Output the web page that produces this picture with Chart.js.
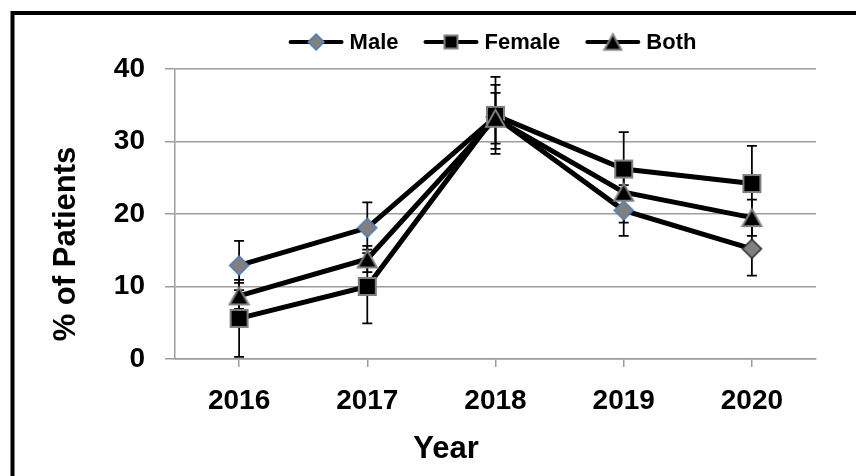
<!DOCTYPE html>
<html>
<head>
<meta charset="utf-8">
<title>% of Patients by Year</title>
<script src="https://cdn.jsdelivr.net/npm/chart.js@4.4.1/dist/chart.umd.min.js"></script>
<style>
  html, body { margin: 0; padding: 0; background: #fff; }
  .chart-wrap { position: relative; width: 856px; height: 476px; }
</style>
</head>
<body>
<div class="chart-wrap"><canvas id="patientsChart"></canvas></div>
<script>
// Values
const years = ['2016', '2017', '2018', '2019', '2020'];
const yTicks = [0, 10, 20, 30, 40];

const maleValues = [12.9, 18.1, 33.4, 20.5, 15.2];
const maleErrors = [3.4, 3.5, 4.4, 3.5, 3.7];
const femaleValues = [5.6, 10.0, 33.6, 26.2, 24.2];
const femaleErrors = [5.3, 5.1, 5.3, 5.1, 5.2];
const bothValues = [8.7, 13.8, 33.2, 23.0, 19.5];
const bothErrors = [1.8, 1.8, 3.5, 4.2, 2.5];

const FONT = '"Liberation Sans", Arial, sans-serif';
const GRID = '#9c9c9c';
Chart.defaults.font.family = FONT;

// Excel-style markers drawn on small canvases, used as point styles
function makeMarker(shape, size, fill, stroke, lw) {
    const c = document.createElement('canvas');
    const s = Math.ceil(size + lw + 2);
    c.width = c.height = s;
    const g = c.getContext('2d');
    const m = s / 2, h = size / 2;
    g.beginPath();
    if (shape === 'diamond') {
        g.moveTo(m, m - h); g.lineTo(m + h, m); g.lineTo(m, m + h); g.lineTo(m - h, m);
    } else if (shape === 'square') {
        g.rect(m - h, m - h, size, size);
    } else {
        g.moveTo(m, m - h * 0.9); g.lineTo(m + h, m + h * 0.9); g.lineTo(m - h, m + h * 0.9);
    }
    g.closePath();
    g.fillStyle = fill;
    g.fill();
    g.lineWidth = lw;
    g.strokeStyle = stroke;
    g.stroke();
    return c;
}

const diamondBlue = makeMarker('diamond', 19, '#808080', '#4a7ebb', 1.5);
const diamondDark = makeMarker('diamond', 19, '#808080', '#262626', 1.5);
const squareMk = makeMarker('square', 17, '#000', '#7f7f7f', 2);
const triangleMk = makeMarker('triangle', 19, '#000', '#7f7f7f', 2);

// error bars (drawn under the series)
const errorBars = {
    id: 'errorBars',
    beforeDatasetsDraw(chart) {
        const { ctx, scales: { y } } = chart;
        ctx.save();
        ctx.strokeStyle = '#000';
        ctx.lineWidth = 1.75;
        chart.data.datasets.forEach((ds, di) => {
            chart.getDatasetMeta(di).data.forEach((pt, i) => {
                const v = ds.data[i], e = ds.errors[i];
                const top = y.getPixelForValue(v + e);
                const bot = y.getPixelForValue(v - e);
                const x = pt.x;
                ctx.beginPath();
                ctx.moveTo(x, top); ctx.lineTo(x, bot);
                ctx.moveTo(x - 5, top); ctx.lineTo(x + 5, top);
                ctx.moveTo(x - 5, bot); ctx.lineTo(x + 5, bot);
                ctx.stroke();
            });
        });
        ctx.restore();
    }
};

// legend with line + marker icons, centred over the plot area
const lineLegend = {
    id: 'lineLegend',
    afterDraw(chart) {
        const { ctx, chartArea } = chart;
        ctx.save();
        ctx.font = `bold 22px ${FONT}`;
        const iconW = 55, gap = 6, sep = 25, y = 42;
        const items = chart.data.datasets.map(ds => ({ text: ds.label, mk: ds.legendMarker }));
        const total = items.reduce((s, it) => s + iconW + gap + ctx.measureText(it.text).width, 0) + sep * (items.length - 1);
        let x = (chartArea.left + chartArea.right) / 2 - total / 2 - 3;
        items.forEach(it => {
            ctx.strokeStyle = '#000';
            ctx.lineWidth = 4;
            ctx.lineCap = 'round';
            ctx.beginPath();
            ctx.moveTo(x + 2, y); ctx.lineTo(x + iconW - 2, y);
            ctx.stroke();
            ctx.drawImage(it.mk, x + iconW / 2 - it.mk.width / 2, y - it.mk.height / 2);
            x += iconW + gap;
            ctx.fillStyle = '#000';
            ctx.textAlign = 'left';
            ctx.textBaseline = 'middle';
            ctx.fillText(it.text, x, y + 1);
            x += ctx.measureText(it.text).width + sep;
        });
        ctx.restore();
    }
};

// white background, frame and axis titles
const frame = {
    id: 'frame',
    beforeDraw(chart) {
        const { ctx } = chart;
        ctx.save();
        ctx.fillStyle = '#fff';
        ctx.fillRect(0, 0, chart.width, chart.height);
        ctx.restore();
    },
    afterDraw(chart) {
        const { ctx } = chart;
        ctx.save();
        ctx.strokeStyle = '#000';
        ctx.lineWidth = 4;
        ctx.strokeRect(12.5, 13, chart.width + 20, chart.height + 20);
        ctx.fillStyle = '#000';
        ctx.font = `bold 31px ${FONT}`;
        ctx.textAlign = 'center';
        ctx.textBaseline = 'middle';
        ctx.fillText('Year', 446, 449);
        ctx.translate(66, 244);
        ctx.rotate(-Math.PI / 2);
        ctx.fillText('% of Patients', 0, 0);
        ctx.restore();
    }
};

const series = (label, values, errors, styles, marker, order) => ({
    label,
    data: values,
    errors,
    order,
    legendMarker: marker,
    borderColor: '#000',
    borderWidth: 5,
    tension: 0,
    pointStyle: styles,
    pointRadius: 10,
    pointBorderWidth: 0,
    clip: false,
});

new Chart(document.getElementById('patientsChart'), {
    type: 'line',
    data: {
        labels: years,
        datasets: [
            series('Male', maleValues, maleErrors, years.map((_, i) => i === years.length - 1 ? diamondDark : diamondBlue), makeMarker('diamond', 16, '#808080', '#4a7ebb', 1.5), 3),
            series('Female', femaleValues, femaleErrors, squareMk, makeMarker('square', 13, '#000', '#7f7f7f', 2), 2),
            series('Both', bothValues, bothErrors, triangleMk, makeMarker('triangle', 17, '#000', '#7f7f7f', 2), 1),
        ]
    },
    options: {
        responsive: true, maintainAspectRatio: false,
        animation: false,
        events: [],
        layout: { padding: { top: 69, right: 40, left: 0, bottom: 0 } },
        plugins: {
            legend: { display: false },
            tooltip: { enabled: false }
        },
        scales: {
            x: {
                offset: true,
                grid: { offset: false, drawOnChartArea: false, tickLength: 8, color: GRID, lineWidth: 1.5 },
                border: { color: GRID, width: 1.5 },
                ticks: { color: '#000', font: { size: 28, weight: 'bold' }, padding: 17, maxRotation: 0 },
                afterFit(scale) { scale.height = 117; }
            },
            y: {
                min: 0, max: 40,
                afterBuildTicks(scale) { scale.ticks = yTicks.map(v => ({ value: v })); },
                grid: { color: GRID, lineWidth: 1.5, tickLength: 10 },
                border: { color: GRID, width: 1.5 },
                ticks: { color: '#000', font: { size: 28, weight: 'bold' }, padding: 20 },
                afterFit(scale) { scale.width = 175; }
            }
        }
    },
    plugins: [frame, errorBars, lineLegend]
});
</script>
</body>
</html>
